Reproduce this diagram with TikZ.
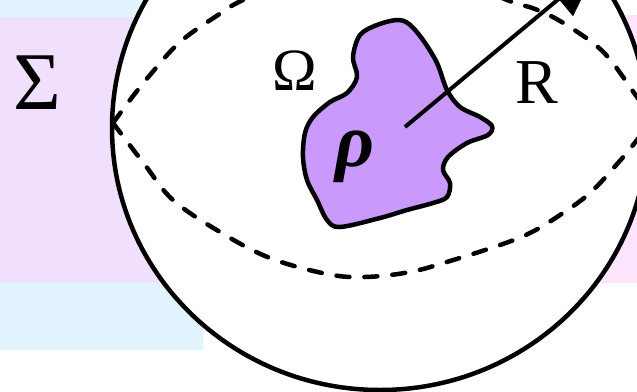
\documentclass[tikz,border=0pt]{standalone}
\usepackage{fontspec}
\setmainfont{Liberation Serif}
\usetikzlibrary{arrows.meta}
\definecolor{bgblue}{RGB}{225,243,254}
\definecolor{bglav}{RGB}{240,224,254}
\definecolor{bgpink}{RGB}{253,228,253}
\definecolor{blobfill}{RGB}{202,153,252}
\begin{document}
\begin{tikzpicture}[x=1pt,y=-1pt,
  outline/.style={line width=4.5pt},
  eqline/.style={line width=4.5pt, dash pattern=on 13pt off 15pt, line cap=round},
  lbl/.style={inner sep=0pt, anchor=base}]
\useasboundingbox (0,0) rectangle (637,391);
\clip (0,0) rectangle (637,391);
% background panels
\fill[bgblue] (0,-5) rectangle (203,350);
\fill[bglav] (0,17) rectangle (380,283);
\fill[bgpink] (380,15) rectangle (645,283);
% sphere
\draw[outline, fill=white] (380,128) ellipse [x radius=268, y radius=262];
% equator lens (dashed)
\draw[eqline] plot[smooth, tension=0.6] coordinates {(113,123) (130,100) (150,75) (180,42) (218,15) (243,0) (300,-24) (375,-33) (450,-25) (507,0) (535,9) (560,21) (593,43) (612,62) (637,97) (653,118)};
\draw[eqline] plot[smooth, tension=0.6] coordinates {(113,123) (145,165) (173,200) (220,232) (270,258) (327,274) (365,277) (410,272) (450,261) (500,245) (530,233) (560,215) (590,193) (618,163) (637,140) (653,118)};
% blob Omega
\draw[outline, fill=blobfill, line join=round] plot[smooth cycle, tension=0.55] coordinates {(353,57) (360,35) (377,25) (397,20) (409,24) (423,40) (437,63) (447,90) (460,107) (480,117) (492,126) (488,135) (467,143) (448,157) (443,170) (450,183) (447,197) (433,203) (407,210) (380,218) (340,227) (327,220) (317,200) (307,180) (303,157) (305,133) (313,117) (330,102) (347,93) (357,77)};
% radius arrow
\coordinate (c) at (405,127);
\coordinate (tip) at (597,-33);
\draw[line width=4pt, -{Triangle[length=50pt,width=44pt]}] (c) -- (tip);
% labels
\node[lbl, font=\fontsize{82}{82}\selectfont] (sigma) at (37,109) {Σ};
\node[lbl, font=\fontsize{60}{60}\selectfont] (omega) at (295,90) {Ω};
\node[lbl, font=\fontsize{64}{64}\selectfont] (R) at (537,103) {R};
\node[lbl, font=\fontsize{76}{76}\selectfont\bfseries\itshape] (rho) at (355,166) {ρ};
\end{tikzpicture}
\end{document}
